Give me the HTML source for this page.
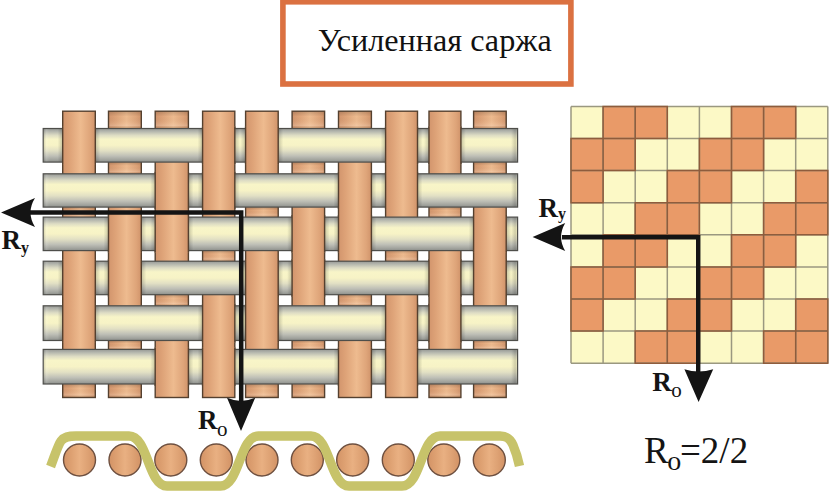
<!DOCTYPE html>
<html><head><meta charset="utf-8">
<style>
html,body{margin:0;padding:0;background:#fff;}
body{width:829px;height:492px;overflow:hidden;position:relative;}
svg{position:absolute;left:0;top:0;}
.t{font-family:"Liberation Serif",serif;}
</style></head><body>
<svg width="829" height="492" viewBox="0 0 829 492">
<defs>
<linearGradient id="cu" x1="0" y1="0" x2="1" y2="0">
<stop offset="0" stop-color="#d2956d"/>
<stop offset="0.22" stop-color="#dea378"/>
<stop offset="0.55" stop-color="#eebb8f"/>
<stop offset="0.85" stop-color="#dea479"/>
<stop offset="1" stop-color="#d0936a"/>
</linearGradient>
<linearGradient id="cuc" x1="0" y1="0" x2="1" y2="0">
<stop offset="0" stop-color="#d39366"/>
<stop offset="0.25" stop-color="#dea172"/>
<stop offset="0.5" stop-color="#e9b082"/>
<stop offset="0.75" stop-color="#dea274"/>
<stop offset="1" stop-color="#d29265"/>
</linearGradient>
<linearGradient id="ag" x1="0" y1="0" x2="0" y2="1">
<stop offset="0" stop-color="#969894"/>
<stop offset="0.08" stop-color="#b2b4ac"/>
<stop offset="0.2" stop-color="#dddcc4"/>
<stop offset="0.32" stop-color="#f8f5c8"/>
<stop offset="0.5" stop-color="#f7f3c6"/>
<stop offset="0.66" stop-color="#e2e0c4"/>
<stop offset="0.82" stop-color="#bebfb6"/>
<stop offset="0.93" stop-color="#a2a49e"/>
<stop offset="1" stop-color="#8c8e8a"/>
</linearGradient>
<linearGradient id="shl" x1="0" y1="0" x2="1" y2="0"><stop offset="0" stop-color="#000" stop-opacity="0"/><stop offset="1" stop-color="#000" stop-opacity="0.2"/></linearGradient>
<linearGradient id="shr" x1="0" y1="0" x2="1" y2="0"><stop offset="0" stop-color="#000" stop-opacity="0.2"/><stop offset="1" stop-color="#000" stop-opacity="0"/></linearGradient>
<linearGradient id="stub" x1="0" y1="0" x2="0" y2="1"><stop offset="0" stop-color="#000" stop-opacity="0.14"/><stop offset="0.3" stop-color="#000" stop-opacity="0"/><stop offset="0.7" stop-color="#fff" stop-opacity="0.06"/><stop offset="0.85" stop-color="#fff" stop-opacity="0.16"/><stop offset="1" stop-color="#000" stop-opacity="0.08"/></linearGradient>
<linearGradient id="capl" x1="0" y1="0" x2="1" y2="0"><stop offset="0" stop-color="#000" stop-opacity="0.12"/><stop offset="0.4" stop-color="#fff" stop-opacity="0.12"/><stop offset="1" stop-color="#fff" stop-opacity="0"/></linearGradient>
<linearGradient id="capr" x1="0" y1="0" x2="1" y2="0"><stop offset="0" stop-color="#000" stop-opacity="0"/><stop offset="0.7" stop-color="#000" stop-opacity="0.16"/><stop offset="1" stop-color="#000" stop-opacity="0.08"/></linearGradient>
</defs>
<rect x="282.9" y="1.8" width="288" height="82.2" fill="#fff" stroke="#db7141" stroke-width="5.6"/>
<text class="t" x="317.8" y="50.5" font-size="32.2" fill="#111">Усиленная саржа</text>
<rect x="62.7" y="111.2" width="32.6" height="286.3" fill="url(#cu)" stroke="#54402f" stroke-width="1.4"/>
<rect x="108.5" y="111.2" width="32.8" height="286.3" fill="url(#cu)" stroke="#54402f" stroke-width="1.4"/>
<rect x="155.2" y="111.2" width="33.2" height="286.3" fill="url(#cu)" stroke="#54402f" stroke-width="1.4"/>
<rect x="202.6" y="111.2" width="32.2" height="286.3" fill="url(#cu)" stroke="#54402f" stroke-width="1.4"/>
<rect x="245.6" y="111.2" width="32.6" height="286.3" fill="url(#cu)" stroke="#54402f" stroke-width="1.4"/>
<rect x="292.1" y="111.2" width="32.5" height="286.3" fill="url(#cu)" stroke="#54402f" stroke-width="1.4"/>
<rect x="338.5" y="111.2" width="32.9" height="286.3" fill="url(#cu)" stroke="#54402f" stroke-width="1.4"/>
<rect x="385.6" y="111.2" width="31.9" height="286.3" fill="url(#cu)" stroke="#54402f" stroke-width="1.4"/>
<rect x="429" y="111.2" width="31.9" height="286.3" fill="url(#cu)" stroke="#54402f" stroke-width="1.4"/>
<rect x="473.6" y="111.2" width="32.6" height="286.3" fill="url(#cu)" stroke="#54402f" stroke-width="1.4"/>
<rect x="43.2" y="128.5" width="474.4" height="33.6" fill="url(#ag)" stroke="#4e4e4a" stroke-width="1.2"/>
<rect x="43.2" y="173.8" width="474.4" height="33.3" fill="url(#ag)" stroke="#4e4e4a" stroke-width="1.2"/>
<rect x="43.2" y="217.1" width="474.4" height="33.5" fill="url(#ag)" stroke="#4e4e4a" stroke-width="1.2"/>
<rect x="43.2" y="261.2" width="474.4" height="33.5" fill="url(#ag)" stroke="#4e4e4a" stroke-width="1.2"/>
<rect x="43.2" y="305.8" width="474.4" height="34.7" fill="url(#ag)" stroke="#4e4e4a" stroke-width="1.2"/>
<rect x="43.2" y="349.4" width="474.4" height="34.6" fill="url(#ag)" stroke="#4e4e4a" stroke-width="1.2"/>
<rect x="43.8" y="129.1" width="6" height="32.4" fill="url(#capl)"/>
<rect x="511" y="129.1" width="6" height="32.4" fill="url(#capr)"/>
<rect x="43.8" y="174.4" width="6" height="32.1" fill="url(#capl)"/>
<rect x="511" y="174.4" width="6" height="32.1" fill="url(#capr)"/>
<rect x="43.8" y="217.7" width="6" height="32.3" fill="url(#capl)"/>
<rect x="511" y="217.7" width="6" height="32.3" fill="url(#capr)"/>
<rect x="43.8" y="261.8" width="6" height="32.3" fill="url(#capl)"/>
<rect x="511" y="261.8" width="6" height="32.3" fill="url(#capr)"/>
<rect x="43.8" y="306.4" width="6" height="33.5" fill="url(#capl)"/>
<rect x="511" y="306.4" width="6" height="33.5" fill="url(#capr)"/>
<rect x="43.8" y="350" width="6" height="33.4" fill="url(#capl)"/>
<rect x="511" y="350" width="6" height="33.4" fill="url(#capr)"/>
<rect x="62.7" y="126.5" width="32.6" height="37.6" fill="url(#cu)"/>
<rect x="57.7" y="129" width="5" height="32.6" fill="url(#shl)"/>
<rect x="95.3" y="129" width="5" height="32.6" fill="url(#shr)"/>
<path d="M62.7 126.5V164.1M95.3 126.5V164.1" stroke="#54402f" stroke-width="1.4"/>
<rect x="202.6" y="126.5" width="32.2" height="37.6" fill="url(#cu)"/>
<rect x="197.6" y="129" width="5" height="32.6" fill="url(#shl)"/>
<rect x="234.8" y="129" width="5" height="32.6" fill="url(#shr)"/>
<path d="M202.6 126.5V164.1M234.8 126.5V164.1" stroke="#54402f" stroke-width="1.4"/>
<rect x="245.6" y="126.5" width="32.6" height="37.6" fill="url(#cu)"/>
<rect x="240.6" y="129" width="5" height="32.6" fill="url(#shl)"/>
<rect x="278.2" y="129" width="5" height="32.6" fill="url(#shr)"/>
<path d="M245.6 126.5V164.1M278.2 126.5V164.1" stroke="#54402f" stroke-width="1.4"/>
<rect x="385.6" y="126.5" width="31.9" height="37.6" fill="url(#cu)"/>
<rect x="380.6" y="129" width="5" height="32.6" fill="url(#shl)"/>
<rect x="417.5" y="129" width="5" height="32.6" fill="url(#shr)"/>
<path d="M385.6 126.5V164.1M417.5 126.5V164.1" stroke="#54402f" stroke-width="1.4"/>
<rect x="429" y="126.5" width="31.9" height="37.6" fill="url(#cu)"/>
<rect x="424" y="129" width="5" height="32.6" fill="url(#shl)"/>
<rect x="460.9" y="129" width="5" height="32.6" fill="url(#shr)"/>
<path d="M429 126.5V164.1M460.9 126.5V164.1" stroke="#54402f" stroke-width="1.4"/>
<rect x="155.2" y="171.8" width="33.2" height="37.3" fill="url(#cu)"/>
<rect x="150.2" y="174.3" width="5" height="32.3" fill="url(#shl)"/>
<rect x="188.4" y="174.3" width="5" height="32.3" fill="url(#shr)"/>
<path d="M155.2 171.8V209.1M188.4 171.8V209.1" stroke="#54402f" stroke-width="1.4"/>
<rect x="202.6" y="171.8" width="32.2" height="37.3" fill="url(#cu)"/>
<rect x="197.6" y="174.3" width="5" height="32.3" fill="url(#shl)"/>
<rect x="234.8" y="174.3" width="5" height="32.3" fill="url(#shr)"/>
<path d="M202.6 171.8V209.1M234.8 171.8V209.1" stroke="#54402f" stroke-width="1.4"/>
<rect x="338.5" y="171.8" width="32.9" height="37.3" fill="url(#cu)"/>
<rect x="333.5" y="174.3" width="5" height="32.3" fill="url(#shl)"/>
<rect x="371.4" y="174.3" width="5" height="32.3" fill="url(#shr)"/>
<path d="M338.5 171.8V209.1M371.4 171.8V209.1" stroke="#54402f" stroke-width="1.4"/>
<rect x="385.6" y="171.8" width="31.9" height="37.3" fill="url(#cu)"/>
<rect x="380.6" y="174.3" width="5" height="32.3" fill="url(#shl)"/>
<rect x="417.5" y="174.3" width="5" height="32.3" fill="url(#shr)"/>
<path d="M385.6 171.8V209.1M417.5 171.8V209.1" stroke="#54402f" stroke-width="1.4"/>
<rect x="108.5" y="215.1" width="32.8" height="37.5" fill="url(#cu)"/>
<rect x="103.5" y="217.6" width="5" height="32.5" fill="url(#shl)"/>
<rect x="141.3" y="217.6" width="5" height="32.5" fill="url(#shr)"/>
<path d="M108.5 215.1V252.6M141.3 215.1V252.6" stroke="#54402f" stroke-width="1.4"/>
<rect x="155.2" y="215.1" width="33.2" height="37.5" fill="url(#cu)"/>
<rect x="150.2" y="217.6" width="5" height="32.5" fill="url(#shl)"/>
<rect x="188.4" y="217.6" width="5" height="32.5" fill="url(#shr)"/>
<path d="M155.2 215.1V252.6M188.4 215.1V252.6" stroke="#54402f" stroke-width="1.4"/>
<rect x="292.1" y="215.1" width="32.5" height="37.5" fill="url(#cu)"/>
<rect x="287.1" y="217.6" width="5" height="32.5" fill="url(#shl)"/>
<rect x="324.6" y="217.6" width="5" height="32.5" fill="url(#shr)"/>
<path d="M292.1 215.1V252.6M324.6 215.1V252.6" stroke="#54402f" stroke-width="1.4"/>
<rect x="338.5" y="215.1" width="32.9" height="37.5" fill="url(#cu)"/>
<rect x="333.5" y="217.6" width="5" height="32.5" fill="url(#shl)"/>
<rect x="371.4" y="217.6" width="5" height="32.5" fill="url(#shr)"/>
<path d="M338.5 215.1V252.6M371.4 215.1V252.6" stroke="#54402f" stroke-width="1.4"/>
<rect x="473.6" y="215.1" width="32.6" height="37.5" fill="url(#cu)"/>
<rect x="468.6" y="217.6" width="5" height="32.5" fill="url(#shl)"/>
<rect x="506.2" y="217.6" width="5" height="32.5" fill="url(#shr)"/>
<path d="M473.6 215.1V252.6M506.2 215.1V252.6" stroke="#54402f" stroke-width="1.4"/>
<rect x="62.7" y="259.2" width="32.6" height="37.5" fill="url(#cu)"/>
<rect x="57.7" y="261.7" width="5" height="32.5" fill="url(#shl)"/>
<rect x="95.3" y="261.7" width="5" height="32.5" fill="url(#shr)"/>
<path d="M62.7 259.2V296.7M95.3 259.2V296.7" stroke="#54402f" stroke-width="1.4"/>
<rect x="108.5" y="259.2" width="32.8" height="37.5" fill="url(#cu)"/>
<rect x="103.5" y="261.7" width="5" height="32.5" fill="url(#shl)"/>
<rect x="141.3" y="261.7" width="5" height="32.5" fill="url(#shr)"/>
<path d="M108.5 259.2V296.7M141.3 259.2V296.7" stroke="#54402f" stroke-width="1.4"/>
<rect x="245.6" y="259.2" width="32.6" height="37.5" fill="url(#cu)"/>
<rect x="240.6" y="261.7" width="5" height="32.5" fill="url(#shl)"/>
<rect x="278.2" y="261.7" width="5" height="32.5" fill="url(#shr)"/>
<path d="M245.6 259.2V296.7M278.2 259.2V296.7" stroke="#54402f" stroke-width="1.4"/>
<rect x="292.1" y="259.2" width="32.5" height="37.5" fill="url(#cu)"/>
<rect x="287.1" y="261.7" width="5" height="32.5" fill="url(#shl)"/>
<rect x="324.6" y="261.7" width="5" height="32.5" fill="url(#shr)"/>
<path d="M292.1 259.2V296.7M324.6 259.2V296.7" stroke="#54402f" stroke-width="1.4"/>
<rect x="429" y="259.2" width="31.9" height="37.5" fill="url(#cu)"/>
<rect x="424" y="261.7" width="5" height="32.5" fill="url(#shl)"/>
<rect x="460.9" y="261.7" width="5" height="32.5" fill="url(#shr)"/>
<path d="M429 259.2V296.7M460.9 259.2V296.7" stroke="#54402f" stroke-width="1.4"/>
<rect x="473.6" y="259.2" width="32.6" height="37.5" fill="url(#cu)"/>
<rect x="468.6" y="261.7" width="5" height="32.5" fill="url(#shl)"/>
<rect x="506.2" y="261.7" width="5" height="32.5" fill="url(#shr)"/>
<path d="M473.6 259.2V296.7M506.2 259.2V296.7" stroke="#54402f" stroke-width="1.4"/>
<rect x="62.7" y="303.8" width="32.6" height="38.7" fill="url(#cu)"/>
<rect x="57.7" y="306.3" width="5" height="33.7" fill="url(#shl)"/>
<rect x="95.3" y="306.3" width="5" height="33.7" fill="url(#shr)"/>
<path d="M62.7 303.8V342.5M95.3 303.8V342.5" stroke="#54402f" stroke-width="1.4"/>
<rect x="202.6" y="303.8" width="32.2" height="38.7" fill="url(#cu)"/>
<rect x="197.6" y="306.3" width="5" height="33.7" fill="url(#shl)"/>
<rect x="234.8" y="306.3" width="5" height="33.7" fill="url(#shr)"/>
<path d="M202.6 303.8V342.5M234.8 303.8V342.5" stroke="#54402f" stroke-width="1.4"/>
<rect x="245.6" y="303.8" width="32.6" height="38.7" fill="url(#cu)"/>
<rect x="240.6" y="306.3" width="5" height="33.7" fill="url(#shl)"/>
<rect x="278.2" y="306.3" width="5" height="33.7" fill="url(#shr)"/>
<path d="M245.6 303.8V342.5M278.2 303.8V342.5" stroke="#54402f" stroke-width="1.4"/>
<rect x="385.6" y="303.8" width="31.9" height="38.7" fill="url(#cu)"/>
<rect x="380.6" y="306.3" width="5" height="33.7" fill="url(#shl)"/>
<rect x="417.5" y="306.3" width="5" height="33.7" fill="url(#shr)"/>
<path d="M385.6 303.8V342.5M417.5 303.8V342.5" stroke="#54402f" stroke-width="1.4"/>
<rect x="429" y="303.8" width="31.9" height="38.7" fill="url(#cu)"/>
<rect x="424" y="306.3" width="5" height="33.7" fill="url(#shl)"/>
<rect x="460.9" y="306.3" width="5" height="33.7" fill="url(#shr)"/>
<path d="M429 303.8V342.5M460.9 303.8V342.5" stroke="#54402f" stroke-width="1.4"/>
<rect x="155.2" y="347.4" width="33.2" height="38.6" fill="url(#cu)"/>
<rect x="150.2" y="349.9" width="5" height="33.6" fill="url(#shl)"/>
<rect x="188.4" y="349.9" width="5" height="33.6" fill="url(#shr)"/>
<path d="M155.2 347.4V386M188.4 347.4V386" stroke="#54402f" stroke-width="1.4"/>
<rect x="202.6" y="347.4" width="32.2" height="38.6" fill="url(#cu)"/>
<rect x="197.6" y="349.9" width="5" height="33.6" fill="url(#shl)"/>
<rect x="234.8" y="349.9" width="5" height="33.6" fill="url(#shr)"/>
<path d="M202.6 347.4V386M234.8 347.4V386" stroke="#54402f" stroke-width="1.4"/>
<rect x="338.5" y="347.4" width="32.9" height="38.6" fill="url(#cu)"/>
<rect x="333.5" y="349.9" width="5" height="33.6" fill="url(#shl)"/>
<rect x="371.4" y="349.9" width="5" height="33.6" fill="url(#shr)"/>
<path d="M338.5 347.4V386M371.4 347.4V386" stroke="#54402f" stroke-width="1.4"/>
<rect x="385.6" y="347.4" width="31.9" height="38.6" fill="url(#cu)"/>
<rect x="380.6" y="349.9" width="5" height="33.6" fill="url(#shl)"/>
<rect x="417.5" y="349.9" width="5" height="33.6" fill="url(#shr)"/>
<path d="M385.6 347.4V386M417.5 347.4V386" stroke="#54402f" stroke-width="1.4"/>
<rect x="63.4" y="207.7" width="31.2" height="8.8" fill="url(#stub)"/>
<rect x="63.4" y="384.6" width="31.2" height="12.3" fill="url(#stub)"/>
<rect x="109.2" y="111.8" width="31.4" height="16.1" fill="url(#stub)"/>
<rect x="109.2" y="162.7" width="31.4" height="10.5" fill="url(#stub)"/>
<rect x="109.2" y="341.1" width="31.4" height="7.7" fill="url(#stub)"/>
<rect x="109.2" y="384.6" width="31.4" height="12.3" fill="url(#stub)"/>
<rect x="155.9" y="111.8" width="31.8" height="16.1" fill="url(#stub)"/>
<rect x="155.9" y="295.3" width="31.8" height="9.9" fill="url(#stub)"/>
<rect x="203.3" y="251.2" width="30.8" height="9.4" fill="url(#stub)"/>
<rect x="246.3" y="207.7" width="31.2" height="8.8" fill="url(#stub)"/>
<rect x="246.3" y="384.6" width="31.2" height="12.3" fill="url(#stub)"/>
<rect x="292.8" y="111.8" width="31.1" height="16.1" fill="url(#stub)"/>
<rect x="292.8" y="162.7" width="31.1" height="10.5" fill="url(#stub)"/>
<rect x="292.8" y="341.1" width="31.1" height="7.7" fill="url(#stub)"/>
<rect x="292.8" y="384.6" width="31.1" height="12.3" fill="url(#stub)"/>
<rect x="339.2" y="111.8" width="31.5" height="16.1" fill="url(#stub)"/>
<rect x="339.2" y="295.3" width="31.5" height="9.9" fill="url(#stub)"/>
<rect x="386.3" y="251.2" width="30.5" height="9.4" fill="url(#stub)"/>
<rect x="429.7" y="207.7" width="30.5" height="8.8" fill="url(#stub)"/>
<rect x="429.7" y="384.6" width="30.5" height="12.3" fill="url(#stub)"/>
<rect x="474.3" y="111.8" width="31.2" height="16.1" fill="url(#stub)"/>
<rect x="474.3" y="162.7" width="31.2" height="10.5" fill="url(#stub)"/>
<rect x="474.3" y="341.1" width="31.2" height="7.7" fill="url(#stub)"/>
<rect x="474.3" y="384.6" width="31.2" height="12.3" fill="url(#stub)"/>
<rect x="571" y="106.4" width="32.1" height="32.1" fill="#fcf9c6"/>
<rect x="603.1" y="106.4" width="32.1" height="32.1" fill="#e99a68"/>
<rect x="635.2" y="106.4" width="32.1" height="32.1" fill="#e99a68"/>
<rect x="667.3" y="106.4" width="32.1" height="32.1" fill="#fcf9c6"/>
<rect x="699.4" y="106.4" width="32.1" height="32.1" fill="#fcf9c6"/>
<rect x="731.5" y="106.4" width="32.1" height="32.1" fill="#e99a68"/>
<rect x="763.6" y="106.4" width="32.1" height="32.1" fill="#e99a68"/>
<rect x="795.7" y="106.4" width="32.1" height="32.1" fill="#fcf9c6"/>
<rect x="571" y="138.5" width="32.1" height="32.1" fill="#e99a68"/>
<rect x="603.1" y="138.5" width="32.1" height="32.1" fill="#e99a68"/>
<rect x="635.2" y="138.5" width="32.1" height="32.1" fill="#fcf9c6"/>
<rect x="667.3" y="138.5" width="32.1" height="32.1" fill="#fcf9c6"/>
<rect x="699.4" y="138.5" width="32.1" height="32.1" fill="#e99a68"/>
<rect x="731.5" y="138.5" width="32.1" height="32.1" fill="#e99a68"/>
<rect x="763.6" y="138.5" width="32.1" height="32.1" fill="#fcf9c6"/>
<rect x="795.7" y="138.5" width="32.1" height="32.1" fill="#fcf9c6"/>
<rect x="571" y="170.6" width="32.1" height="32.1" fill="#e99a68"/>
<rect x="603.1" y="170.6" width="32.1" height="32.1" fill="#fcf9c6"/>
<rect x="635.2" y="170.6" width="32.1" height="32.1" fill="#fcf9c6"/>
<rect x="667.3" y="170.6" width="32.1" height="32.1" fill="#e99a68"/>
<rect x="699.4" y="170.6" width="32.1" height="32.1" fill="#e99a68"/>
<rect x="731.5" y="170.6" width="32.1" height="32.1" fill="#fcf9c6"/>
<rect x="763.6" y="170.6" width="32.1" height="32.1" fill="#fcf9c6"/>
<rect x="795.7" y="170.6" width="32.1" height="32.1" fill="#e99a68"/>
<rect x="571" y="202.7" width="32.1" height="32.1" fill="#fcf9c6"/>
<rect x="603.1" y="202.7" width="32.1" height="32.1" fill="#fcf9c6"/>
<rect x="635.2" y="202.7" width="32.1" height="32.1" fill="#e99a68"/>
<rect x="667.3" y="202.7" width="32.1" height="32.1" fill="#e99a68"/>
<rect x="699.4" y="202.7" width="32.1" height="32.1" fill="#fcf9c6"/>
<rect x="731.5" y="202.7" width="32.1" height="32.1" fill="#fcf9c6"/>
<rect x="763.6" y="202.7" width="32.1" height="32.1" fill="#e99a68"/>
<rect x="795.7" y="202.7" width="32.1" height="32.1" fill="#e99a68"/>
<rect x="571" y="234.8" width="32.1" height="32.1" fill="#fcf9c6"/>
<rect x="603.1" y="234.8" width="32.1" height="32.1" fill="#e99a68"/>
<rect x="635.2" y="234.8" width="32.1" height="32.1" fill="#e99a68"/>
<rect x="667.3" y="234.8" width="32.1" height="32.1" fill="#fcf9c6"/>
<rect x="699.4" y="234.8" width="32.1" height="32.1" fill="#fcf9c6"/>
<rect x="731.5" y="234.8" width="32.1" height="32.1" fill="#e99a68"/>
<rect x="763.6" y="234.8" width="32.1" height="32.1" fill="#e99a68"/>
<rect x="795.7" y="234.8" width="32.1" height="32.1" fill="#fcf9c6"/>
<rect x="571" y="266.9" width="32.1" height="32.1" fill="#e99a68"/>
<rect x="603.1" y="266.9" width="32.1" height="32.1" fill="#e99a68"/>
<rect x="635.2" y="266.9" width="32.1" height="32.1" fill="#fcf9c6"/>
<rect x="667.3" y="266.9" width="32.1" height="32.1" fill="#fcf9c6"/>
<rect x="699.4" y="266.9" width="32.1" height="32.1" fill="#e99a68"/>
<rect x="731.5" y="266.9" width="32.1" height="32.1" fill="#e99a68"/>
<rect x="763.6" y="266.9" width="32.1" height="32.1" fill="#fcf9c6"/>
<rect x="795.7" y="266.9" width="32.1" height="32.1" fill="#fcf9c6"/>
<rect x="571" y="299" width="32.1" height="32.1" fill="#e99a68"/>
<rect x="603.1" y="299" width="32.1" height="32.1" fill="#fcf9c6"/>
<rect x="635.2" y="299" width="32.1" height="32.1" fill="#fcf9c6"/>
<rect x="667.3" y="299" width="32.1" height="32.1" fill="#e99a68"/>
<rect x="699.4" y="299" width="32.1" height="32.1" fill="#e99a68"/>
<rect x="731.5" y="299" width="32.1" height="32.1" fill="#fcf9c6"/>
<rect x="763.6" y="299" width="32.1" height="32.1" fill="#fcf9c6"/>
<rect x="795.7" y="299" width="32.1" height="32.1" fill="#e99a68"/>
<rect x="571" y="331.1" width="32.1" height="32.1" fill="#fcf9c6"/>
<rect x="603.1" y="331.1" width="32.1" height="32.1" fill="#fcf9c6"/>
<rect x="635.2" y="331.1" width="32.1" height="32.1" fill="#e99a68"/>
<rect x="667.3" y="331.1" width="32.1" height="32.1" fill="#e99a68"/>
<rect x="699.4" y="331.1" width="32.1" height="32.1" fill="#fcf9c6"/>
<rect x="731.5" y="331.1" width="32.1" height="32.1" fill="#fcf9c6"/>
<rect x="763.6" y="331.1" width="32.1" height="32.1" fill="#e99a68"/>
<rect x="795.7" y="331.1" width="32.1" height="32.1" fill="#e99a68"/>
<path d="M571 106.4V363.2M571 106.4H827.8M603.1 106.4V363.2M571 138.5H827.8M635.2 106.4V363.2M571 170.6H827.8M667.3 106.4V363.2M571 202.7H827.8M699.4 106.4V363.2M571 234.8H827.8M731.5 106.4V363.2M571 266.9H827.8M763.6 106.4V363.2M571 299H827.8M795.7 106.4V363.2M571 331.1H827.8M827.8 106.4V363.2M571 363.2H827.8" stroke="#9a9880" stroke-width="1.5" fill="none"/>
<path d="M603.1 106.4h32.1v32.1h-32.1zM635.2 106.4h32.1v32.1h-32.1zM731.5 106.4h32.1v32.1h-32.1zM763.6 106.4h32.1v32.1h-32.1zM571 138.5h32.1v32.1h-32.1zM603.1 138.5h32.1v32.1h-32.1zM699.4 138.5h32.1v32.1h-32.1zM731.5 138.5h32.1v32.1h-32.1zM571 170.6h32.1v32.1h-32.1zM667.3 170.6h32.1v32.1h-32.1zM699.4 170.6h32.1v32.1h-32.1zM795.7 170.6h32.1v32.1h-32.1zM635.2 202.7h32.1v32.1h-32.1zM667.3 202.7h32.1v32.1h-32.1zM763.6 202.7h32.1v32.1h-32.1zM795.7 202.7h32.1v32.1h-32.1zM603.1 234.8h32.1v32.1h-32.1zM635.2 234.8h32.1v32.1h-32.1zM731.5 234.8h32.1v32.1h-32.1zM763.6 234.8h32.1v32.1h-32.1zM571 266.9h32.1v32.1h-32.1zM603.1 266.9h32.1v32.1h-32.1zM699.4 266.9h32.1v32.1h-32.1zM731.5 266.9h32.1v32.1h-32.1zM571 299h32.1v32.1h-32.1zM667.3 299h32.1v32.1h-32.1zM699.4 299h32.1v32.1h-32.1zM795.7 299h32.1v32.1h-32.1zM635.2 331.1h32.1v32.1h-32.1zM667.3 331.1h32.1v32.1h-32.1zM763.6 331.1h32.1v32.1h-32.1zM795.7 331.1h32.1v32.1h-32.1z" stroke="#8e5c3c" stroke-width="1.5" fill="none"/>
<circle cx="79.5" cy="460" r="16" fill="url(#cuc)" stroke="#6e5040" stroke-width="1.4"/>
<circle cx="125" cy="460" r="16" fill="url(#cuc)" stroke="#6e5040" stroke-width="1.4"/>
<circle cx="170.8" cy="460" r="16" fill="url(#cuc)" stroke="#6e5040" stroke-width="1.4"/>
<circle cx="216.3" cy="460" r="16" fill="url(#cuc)" stroke="#6e5040" stroke-width="1.4"/>
<circle cx="262" cy="460" r="16" fill="url(#cuc)" stroke="#6e5040" stroke-width="1.4"/>
<circle cx="307.3" cy="460" r="16" fill="url(#cuc)" stroke="#6e5040" stroke-width="1.4"/>
<circle cx="352.7" cy="460" r="16" fill="url(#cuc)" stroke="#6e5040" stroke-width="1.4"/>
<circle cx="398.3" cy="460" r="16" fill="url(#cuc)" stroke="#6e5040" stroke-width="1.4"/>
<circle cx="443.8" cy="460" r="16" fill="url(#cuc)" stroke="#6e5040" stroke-width="1.4"/>
<circle cx="489.3" cy="460" r="16" fill="url(#cuc)" stroke="#6e5040" stroke-width="1.4"/>
<path d="M50.6 466.5C55 455 58 445 61 441C64 437 68 436 76 436L129 436C148 436 148 486 167 486L220.5 486C239.5 486 239.5 436 258.5 436L311 436C330 436 330 486 349 486L402 486C421 486 421 436 440 436L500 436C506 436 510 438 513 445C516 452 518 459 519.5 466" fill="none" stroke="#c7c36a" stroke-width="9.4"/>
<!-- left arrows -->
<path d="M30 212.5H241.2V402" fill="none" stroke="#141414" stroke-width="4.5"/>
<path d="M1 212.5L35 198Q26 212.5 35 227Z" fill="#141414"/>
<path d="M241 431L227 397.8Q241 404 255.2 397.8Z" fill="#141414"/>
<!-- right arrows -->
<path d="M562 237.2H698.2V372" fill="none" stroke="#141414" stroke-width="4.4"/>
<path d="M532.6 237L565.2 223Q557 237 565.2 251Z" fill="#141414"/>
<path d="M698.6 402L684.4 369.2Q698.6 374 713.2 369.2Z" fill="#141414"/>
<g class="t" font-weight="bold" fill="#141414">
<text x="1.5" y="249.2" font-size="27">R<tspan font-size="16" dy="4">у</tspan></text>
<text x="198" y="429.3" font-size="27">R<tspan font-size="21" font-weight="normal" dx="-0.6" dy="6.2">о</tspan></text>
<text x="538.5" y="217" font-size="27">R<tspan font-size="16" dy="2">у</tspan></text>
<text x="652.3" y="391.2" font-size="27">R<tspan font-size="21" font-weight="normal" dx="-0.6" dy="5.5">о</tspan></text>
</g>
<text class="t" x="644" y="463.2" font-size="37" fill="#141414">R<tspan font-size="28" dx="-1.5" dy="6.3">о</tspan><tspan dx="-1.2" dy="-6.3">=2/2</tspan></text>
</svg>
</body></html>
